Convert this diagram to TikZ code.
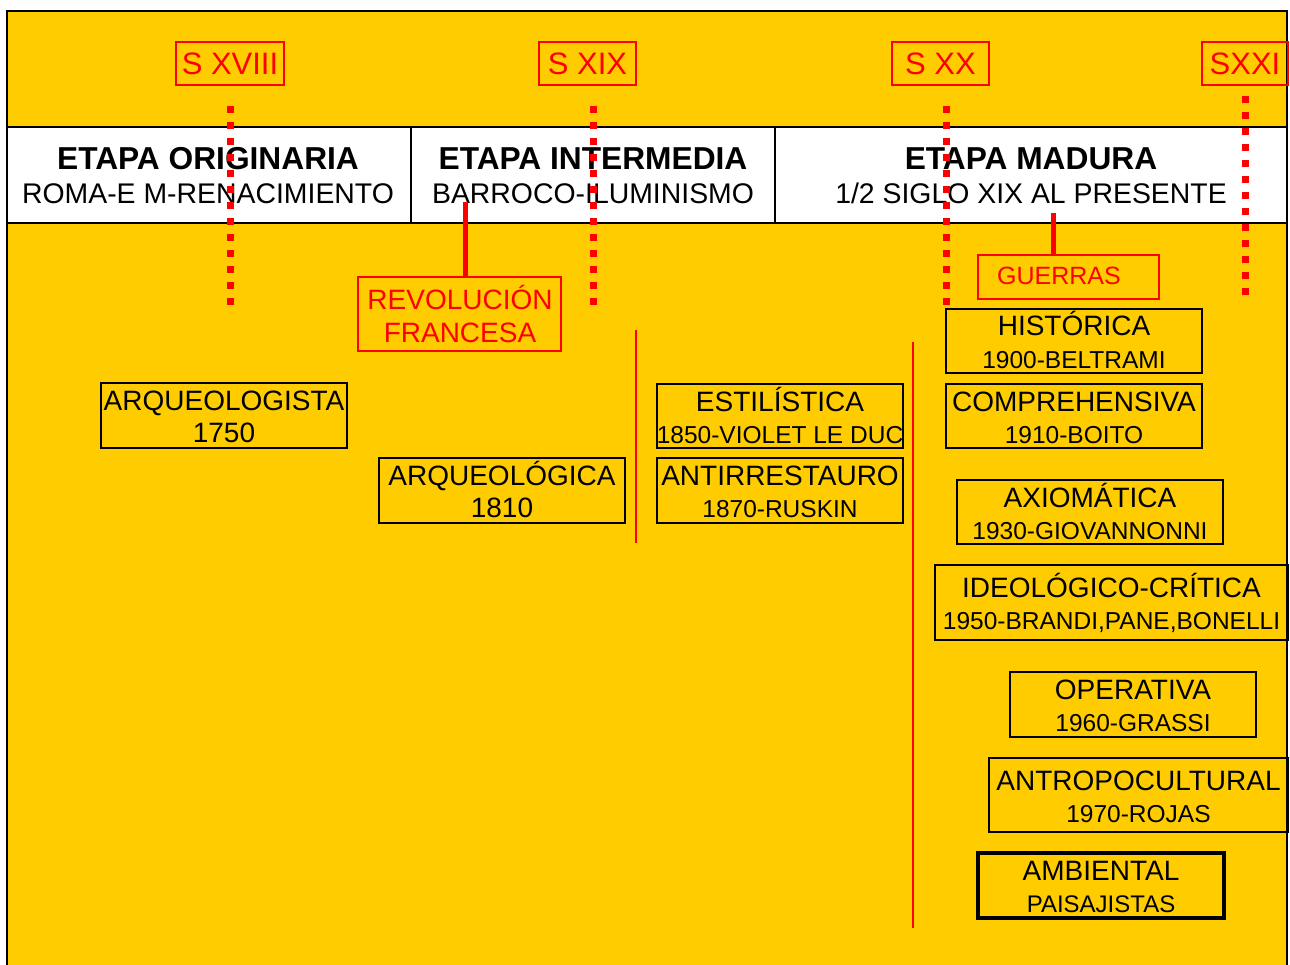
\documentclass[tikz,border=0pt]{standalone}
\usepackage{fontspec}
\setmainfont{Liberation Sans}
\definecolor{bgy}{HTML}{FFCC00}
\definecolor{rd}{HTML}{FF0000}
\tikzset{
  fs/.style={font=\fontsize{#1}{#1}\selectfont},
  hdr/.style={font=\fontsize{31.7}{31.7}\selectfont\bfseries, anchor=base, inner sep=0pt},
  sub/.style={fs=28.4, anchor=base, inner sep=0pt},
  blackbox/.style={draw=black, line width=1.5pt, rectangle, inner sep=0pt, outer sep=0pt},
  redbox/.style={draw=rd, line width=1.5pt, rectangle, inner sep=0pt, outer sep=0pt},
  redtxt/.style={text=rd, anchor=base, inner sep=0pt},
  dotline/.style={draw=rd, line width=7pt, dash pattern=on 7pt off 9pt},
  redline/.style={draw=rd, line width=5pt},
  thinred/.style={draw=rd, line width=2pt},
  thickbox/.style={line width=3.5pt}
}
% name, x1, y1, x2, y2, line1, line2, size2, extra style
\newcommand\tbox[9]{%
  \node[blackbox,#9,minimum width={#4-#2},minimum height={#5-#3}] (#1) at ({(#2+#4)/2},{(#3+#5)/2}) {};
  \node[fs=28,anchor=base,inner sep=0pt] (#1-a) at ([yshift=5pt]#1.center) {#6};
  \node[fs=#8,anchor=base,inner sep=0pt] (#1-b) at ([yshift=-27pt]#1.center) {#7};
}
\begin{document}
\begin{tikzpicture}[x=1pt,y=-1pt]
\useasboundingbox (0,0) rectangle (1290,965);
% background
\draw[fill=bgy, draw=black, line width=2.5pt] (7,11) rectangle (1287,985);
% header band
\draw[fill=white, draw=black, line width=2pt] (7,127) rectangle (1287,223);
\draw[black, line width=2pt] (411,127) -- (411,223);
\draw[black, line width=2pt] (775,127) -- (775,223);
\node[hdr] (h1) at (208,170) {ETAPA ORIGINARIA};
\node[sub] (s1) at (208,204) {ROMA-E M-RENACIMIENTO};
\node[hdr] (h2) at (593,170) {ETAPA INTERMEDIA};
\node[sub] (s2) at (593,204) {BARROCO-ILUMINISMO};
\node[hdr] (h3) at (1031,170) {ETAPA MADURA};
\node[sub] (s3) at (1031,204) {1/2 SIGLO XIX AL PRESENTE};

% century boxes
\node[redbox, minimum width=108, minimum height=43] (c18) at (230,63.5) {};
\node[redtxt, fs=31] (c18t) at (230,75) {S XVIII};
\node[redbox, minimum width=97, minimum height=43] (c19) at (587.5,63.5) {};
\node[redtxt, fs=31] (c19t) at (587.5,75) {S XIX};
\node[redbox, minimum width=97, minimum height=43] (c20) at (940.5,63.5) {};
\node[redtxt, fs=31] (c20t) at (940.5,75) {S XX};
\node[redbox, minimum width=86, minimum height=43] (c21) at (1245,63.5) {};
\node[redtxt, fs=31] (c21t) at (1245,75) {SXXI};

% events
\node[redbox, minimum width=203, minimum height=74] (rev) at (459.5,314) {};
\node[redtxt, fs=28] (rev-a) at (460,310) {REVOLUCIÓN};
\node[redtxt, fs=28] (rev-b) at (460,343) {FRANCESA};
\node[redbox, minimum width=181, minimum height=44] (gue) at (1068.5,277) {};
\node[redtxt, fs=25] (gue-t) at (1059,285) {GUERRAS};
\coordinate (revsrc) at (465,202);
\coordinate (guesrc) at (1053,213);
\draw[redline] (revsrc) -- (revsrc |- rev.north);
\draw[redline] (guesrc) -- (guesrc |- gue.north);

% thin red separators
\coordinate (sepA1) at (636,330);
\coordinate (sepA2) at (636,543);
\coordinate (sepB1) at (913,342);
\coordinate (sepB2) at (913,928);
\draw[thinred] (sepA1) -- (sepA2);
\draw[thinred] (sepB1) -- (sepB2);

% boxes
\tbox{arqg}{101}{383}{347}{448}{ARQUEOLOGISTA}{1750}{28}{}
\tbox{arqc}{379}{458}{625}{523}{ARQUEOLÓGICA}{1810}{28}{}
\tbox{esti}{657}{384}{903}{448}{ESTILÍSTICA}{1850-VIOLET LE DUC}{24.5}{}
\tbox{anti}{657}{458}{903}{523}{ANTIRRESTAURO}{1870-RUSKIN}{24.5}{}
\tbox{hist}{946}{309}{1202}{373}{HISTÓRICA}{1900-BELTRAMI}{24.5}{}
\tbox{comp}{946}{384}{1202}{448}{COMPREHENSIVA}{1910-BOITO}{24.5}{}
\tbox{axio}{957}{480}{1223}{544}{AXIOMÁTICA}{1930-GIOVANNONNI}{24.5}{}
\tbox{ideo}{935}{565}{1288}{640}{IDEOLÓGICO-CRÍTICA}{1950-BRANDI,PANE,BONELLI}{24.5}{}
\tbox{oper}{1010}{672}{1256}{737}{OPERATIVA}{1960-GRASSI}{24.5}{}
\tbox{antr}{989}{758}{1288}{832}{ANTROPOCULTURAL}{1970-ROJAS}{24.5}{}
\tbox{ambi}{978}{853}{1224}{918}{AMBIENTAL}{PAISAJISTAS}{24}{thickbox}

% dotted century lines
\coordinate (d18a) at (230,106); \coordinate (d18b) at (230,306);
\coordinate (d19a) at (593,106); \coordinate (d19b) at (593,306);
\coordinate (d20a) at (946,106); \coordinate (d20b) at (946,306);
\coordinate (d21a) at (1245,96); \coordinate (d21b) at (1245,296);
\draw[dotline] (d18a) -- (d18b);
\draw[dotline] (d19a) -- (d19b);
\draw[dotline] (d20a) -- (d20b);
\draw[dotline] (d21a) -- (d21b);
\end{tikzpicture}
\end{document}
